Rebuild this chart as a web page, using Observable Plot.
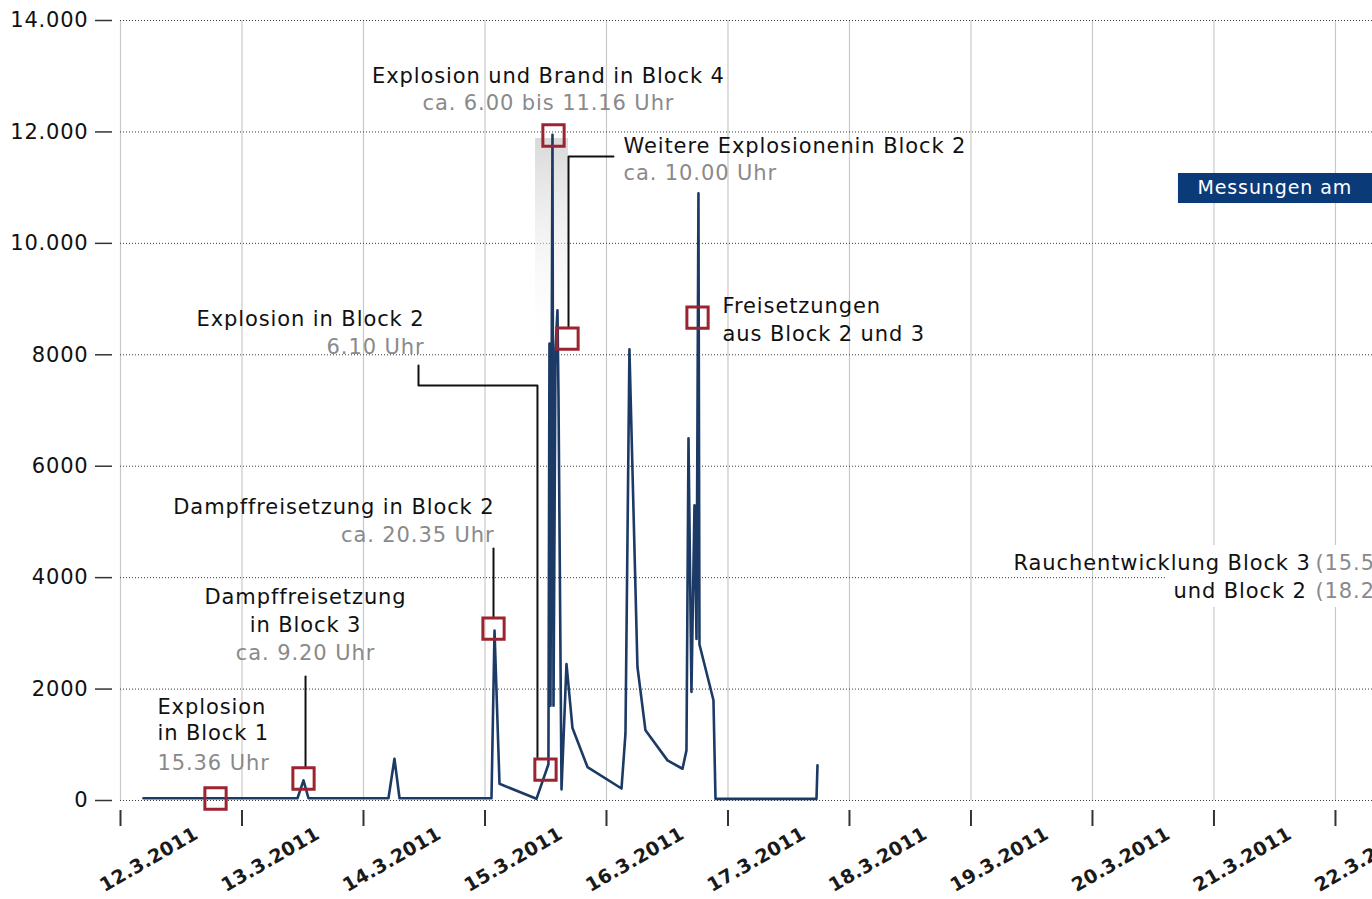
<!DOCTYPE html>
<html><head><meta charset="utf-8">
<script src="https://cdn.jsdelivr.net/npm/d3@7"></script>
<script src="https://cdn.jsdelivr.net/npm/@observablehq/plot@0.6"></script>
<style>
html,body{margin:0;padding:0;background:#fff;overflow:hidden}
#chart svg{display:block;overflow:hidden}
#chart .note text{letter-spacing:0.9px}
#chart .xlab text{letter-spacing:0.3px}
#chart g[aria-label="y-axis tick label"] text{letter-spacing:0.8px}
</style></head><body><div id="chart"></div>
<script>
// ---- measured series (time, value) ----
const times = ["2011-03-12T04:32Z","2011-03-13T10:58Z","2011-03-13T12:09Z","2011-03-13T13:08Z","2011-03-14T04:56Z","2011-03-14T06:07Z","2011-03-14T07:07Z","2011-03-15T01:17Z","2011-03-15T01:53Z","2011-03-15T02:52Z","2011-03-15T10:10Z","2011-03-15T12:32Z","2011-03-15T12:44Z","2011-03-15T12:56Z","2011-03-15T13:20Z","2011-03-15T13:32Z","2011-03-15T13:56Z","2011-03-15T14:19Z","2011-03-15T14:31Z","2011-03-15T15:07Z","2011-03-15T16:06Z","2011-03-15T17:17Z","2011-03-15T20:15Z","2011-03-16T02:58Z","2011-03-16T03:45Z","2011-03-16T04:32Z","2011-03-16T06:07Z","2011-03-16T07:42Z","2011-03-16T12:03Z","2011-03-16T15:01Z","2011-03-16T15:48Z","2011-03-16T16:12Z","2011-03-16T16:47Z","2011-03-16T17:23Z","2011-03-16T17:47Z","2011-03-16T18:10Z","2011-03-16T18:22Z","2011-03-16T21:08Z","2011-03-16T21:32Z","2011-03-17T17:29Z","2011-03-17T17:41Z"];
const values = [40,40,360,40,40,750,40,40,3050,300,30,650,8200,1700,11950,1700,8100,8800,7300,200,2450,1300,600,215,1200,8100,2400,1260,720,570,900,6500,1950,5300,2900,10900,2800,1800,30,30,630];

// ---- axes ----
const yTicks = [0,2000,4000,6000,8000,10000,12000,14000];
const yTickLabels = ["0","2000","4000","6000","8000","10.000","12.000","14.000"];
const xTickDates = ["2011-03-12T00:00Z","2011-03-13T00:00Z","2011-03-14T00:00Z","2011-03-15T00:00Z","2011-03-16T00:00Z","2011-03-17T00:00Z","2011-03-18T00:00Z","2011-03-19T00:00Z","2011-03-20T00:00Z","2011-03-21T00:00Z","2011-03-22T00:00Z"];
const xTickLabels = ["12.3.2011","13.3.2011","14.3.2011","15.3.2011","16.3.2011","17.3.2011","18.3.2011","19.3.2011","20.3.2011","21.3.2011","22.3.2011"];
const xDomain = ["2011-03-12T00:00Z","2011-03-22T07:19Z"];

// ---- event markers (red squares) ----
const markerTimes = ["2011-03-12T18:46Z","2011-03-13T12:09Z","2011-03-15T01:41Z","2011-03-15T11:57Z","2011-03-15T13:32Z","2011-03-15T16:18Z","2011-03-16T17:59Z"];
const markerValues = [36,395,3087,556,11936,8292,8669];

// ---- annotation texts ----
const noteTexts = ["Explosion","in Block 1","15.36 Uhr","Dampffreisetzung","in Block 3","ca. 9.20 Uhr","Dampffreisetzung in Block 2","ca. 20.35 Uhr","Explosion in Block 2","6.10 Uhr","Explosion und Brand in Block 4","ca. 6.00 bis 11.16 Uhr","Weitere Explosionenin Block 2","ca. 10.00 Uhr","Freisetzungen","aus Block 2 und 3","Rauchentwicklung Block 3","(15.5","und Block 2","(18.2"];
const noteTimes = ["2011-03-12T07:18Z","2011-03-12T07:18Z","2011-03-12T07:18Z","2011-03-13T12:33Z","2011-03-13T12:33Z","2011-03-13T12:33Z","2011-03-15T01:53Z","2011-03-15T01:53Z","2011-03-14T12:03Z","2011-03-14T12:03Z","2011-03-15T12:32Z","2011-03-15T12:32Z","2011-03-16T03:21Z","2011-03-16T03:21Z","2011-03-16T22:55Z","2011-03-16T22:55Z","2011-03-19T08:24Z","2011-03-21T20:03Z","2011-03-20T16:00Z","2011-03-21T20:03Z"];
const noteValues = [1669,1203,664,3644,3141,2638,5259,4756,8633,8131,12995,12510,11738,11254,8867,8364,4254,4254,3751,3751];
const noteAnchors = ["start","start","start","middle","middle","middle","end","end","end","end","middle","middle","start","start","start","start","start","start","start","start"];
const noteTones = ["dark","dark","gray","dark","dark","gray","dark","gray","dark","gray","dark","gray","dark","gray","dark","dark","dark","gray","dark","gray"];

// ---- leader lines ----
const leaderIds = ["a","a","b","b","c","c","c","c","d","d","d"];
const leaderTimes = ["2011-03-13T12:33Z","2011-03-13T12:33Z","2011-03-15T01:41Z","2011-03-15T01:41Z","2011-03-14T10:52Z","2011-03-14T10:52Z","2011-03-15T10:22Z","2011-03-15T10:22Z","2011-03-16T01:23Z","2011-03-15T16:30Z","2011-03-15T16:30Z"];
const leaderValues = [2226,610,4523,3285,7808,7449,7449,772,11559,11559,8508];

// ---- shaded period, info boxes ----
const shadeTimes = ["2011-03-15T09:59Z","2011-03-15T16:30Z"];
const shadeValues = [7898,11882];
const boxLabel = "Messungen am";
const boxTimes = ["2011-03-20T16:59Z","2011-03-22T07:19Z"];
const boxValues = [10715,11254];
const boxTextTime = "2011-03-20T20:44Z";
const boxTextValue = 11003;
const clearTimes = ["2011-03-20T14:25Z","2011-03-22T07:19Z"];
const clearValues = [3464,4577];

const P = s => new Date(s);
const series = times.map((t,i)=>({t:P(t), v:values[i]}));
const markers = markerTimes.map((t,i)=>({t:P(t), v:markerValues[i]}));
const notes = noteTexts.map((s,i)=>({s, t:P(noteTimes[i]), v:noteValues[i], a:noteAnchors[i], tone:noteTones[i]}));
const leaders = leaderIds.map((id,i)=>({id, t:P(leaderTimes[i]), v:leaderValues[i]}));
const xt = xTickDates.map(P);

const noteMark = (anchor, tone) => Plot.text(notes.filter(d=>d.a===anchor && d.tone===tone), {
  x:"t", y:"v", text:"s", textAnchor:anchor, fontSize:21,
  fill: tone==="gray" ? "#8a8a8a" : "#111", className:"note"
});

const chart = Plot.plot({
  width:1372, height:899,
  marginTop:20, marginBottom:99, marginLeft:120, marginRight:0,
  style:{fontFamily:"'DejaVu Sans', Verdana, sans-serif", background:"#fff", color:"#111"},
  x:{type:"utc", domain:xDomain.map(P)},
  y:{domain:[0,14000]},
  marks:[
    Plot.gridX(xt, {stroke:"#c9c9c9", strokeOpacity:1, strokeWidth:1.2}),
    Plot.gridY(yTicks, {stroke:"#3a3a3a", strokeOpacity:1, strokeDasharray:"1,2"}),
    Plot.rect([0], {x1:()=>P(shadeTimes[0]), x2:()=>P(shadeTimes[1]), y1:()=>shadeValues[0], y2:()=>shadeValues[1], fill:"url(#shadeGrad)"}),
    Plot.rect([0], {x1:()=>P(clearTimes[0]), x2:()=>P(clearTimes[1]), y1:()=>clearValues[0], y2:()=>clearValues[1], fill:"#fff"}),
    Plot.line(leaders, {x:"t", y:"v", z:"id", stroke:"#111", strokeWidth:2, curve:"linear"}),
    Plot.line(series, {x:"t", y:"v", stroke:"#1c3a66", strokeWidth:2.6, strokeLinejoin:"round"}),
    Plot.dot(markers, {x:"t", y:"v", symbol:"square", r:12, stroke:"#9c2330", strokeWidth:3, fill:"none"}),
    Plot.axisY({ticks:yTicks, tickFormat:d=>yTickLabels[yTicks.indexOf(d)], tickSize:17, dx:-8, tickPadding:7, fontSize:21, label:null, stroke:"#333", strokeWidth:1.5}),
    Plot.axisX({ticks:xt, tickSize:16, dy:10, tickFormat:()=>"", label:null, stroke:"#333", strokeWidth:2}),
    Plot.text(xt, {x:d=>d, frameAnchor:"bottom", text:(d,i)=>xTickLabels[i], rotate:-30, textAnchor:"end", lineAnchor:"bottom", dx:79, dy:37, fontWeight:"bold", fontSize:19, fill:"#1a1a1a", className:"xlab"}),
    noteMark("start","dark"), noteMark("start","gray"),
    noteMark("middle","dark"), noteMark("middle","gray"),
    noteMark("end","dark"), noteMark("end","gray"),
    Plot.rect([0], {x1:()=>P(boxTimes[0]), x2:()=>P(boxTimes[1]), y1:()=>boxValues[0], y2:()=>boxValues[1], fill:"#0b3a78"}),
    Plot.text([boxLabel], {x:()=>P(boxTextTime), y:()=>boxTextValue, text:d=>d, textAnchor:"start", fill:"#fff", fontSize:19, className:"note"})
  ]
});

const defs = d3.select(chart).insert("defs", ":first-child");
const grad = defs.append("linearGradient").attr("id","shadeGrad").attr("x1",0).attr("y1",0).attr("x2",0).attr("y2",1);
grad.append("stop").attr("offset","0%").attr("stop-color","#d9d9d9");
grad.append("stop").attr("offset","100%").attr("stop-color","#ffffff").attr("stop-opacity",0);

document.getElementById("chart").appendChild(chart);
</script>
</body></html>
